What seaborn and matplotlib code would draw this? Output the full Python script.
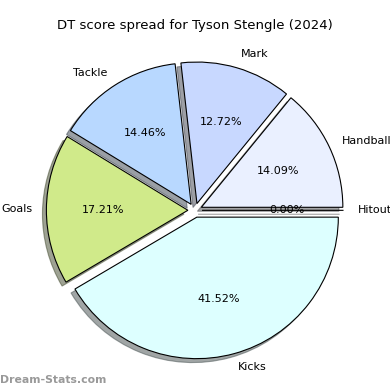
import matplotlib
matplotlib.use("Agg")
import matplotlib.pyplot as plt
import seaborn as sns

sns.set_theme(style="white")
plt.rcParams['font.family'] = ['DejaVu Sans']
plt.rcParams['text.color'] = 'black'

labels = ["Hitout", "Handball", "Mark", "Tackle", "Goals", "Kicks"]
values = [0.00, 14.09, 12.72, 14.46, 17.21, 41.52]
colors = ["#f0f0f0", "#eaf0ff", "#c8d8ff", "#b8d8ff", "#d0ea8a", "#ddffff"]
explode = [0.05] * len(values)
title = "DT score spread for Tyson Stengle (2024)"

fig = plt.figure(figsize=(3.9, 3.9), dpi=100)
ax = fig.add_axes([0.0464, 0.0072, 0.907, 0.907])
ax.pie(values, labels=labels, colors=colors, explode=explode, shadow=True,
       autopct="%1.2f%%", startangle=0, counterclock=True,
       wedgeprops=dict(edgecolor="black", linewidth=0.8),
       textprops=dict(fontsize=8, color="black"))
fig.text(0.5, 0.935, title, ha="center", va="center", fontsize=9.5, color="black")
fig.text(0.0, 0.025, "Dream-Stats.com", ha="left", va="center", fontsize=7.8,
         color="#999999", fontweight="bold")
fig.savefig("out.png", dpi=100)
